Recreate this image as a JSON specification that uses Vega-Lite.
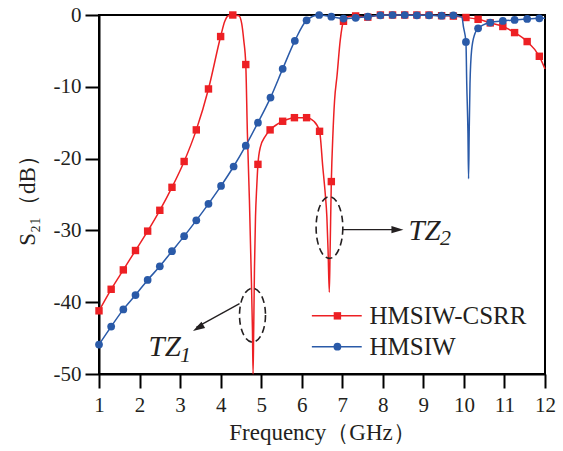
{
  "$schema": "https://vega.github.io/schema/vega-lite/v6.json",
  "width": 446,
  "height": 359,
  "autosize": {"type": "none"},
  "padding": {"left": 99, "top": 15, "right": 18, "bottom": 77},
  "background": "white",
  "config": {
    "view": {"stroke": "black", "strokeWidth": 2},
    "font": "Times New Roman",
    "axis": {
      "domainColor": "black", "domainWidth": 2,
      "tickColor": "black", "tickWidth": 2,
      "grid": false,
      "labelFont": "Times New Roman", "labelFontSize": 21, "labelColor": "#231f20",
      "titleFont": "Times New Roman", "titleFontSize": 23, "titleFontWeight": "normal", "titleColor": "#231f20",
      "labelOverlap": false, "labelFlush": false
    }
  },
  "datasets": {
    "curves": [
      {"series": "HMSIW-CSRR", "f": 1.0, "s21": -41.2},
      {"series": "HMSIW-CSRR", "f": 1.3, "s21": -38.2},
      {"series": "HMSIW-CSRR", "f": 1.6, "s21": -35.5},
      {"series": "HMSIW-CSRR", "f": 1.9, "s21": -32.8},
      {"series": "HMSIW-CSRR", "f": 2.2, "s21": -30.1},
      {"series": "HMSIW-CSRR", "f": 2.5, "s21": -27.2},
      {"series": "HMSIW-CSRR", "f": 2.8, "s21": -24.0},
      {"series": "HMSIW-CSRR", "f": 3.1, "s21": -20.4},
      {"series": "HMSIW-CSRR", "f": 3.4, "s21": -16.0},
      {"series": "HMSIW-CSRR", "f": 3.7, "s21": -10.3},
      {"series": "HMSIW-CSRR", "f": 4.0, "s21": -3.0},
      {"series": "HMSIW-CSRR", "f": 4.1, "s21": -0.9},
      {"series": "HMSIW-CSRR", "f": 4.19, "s21": -0.1},
      {"series": "HMSIW-CSRR", "f": 4.3, "s21": 0},
      {"series": "HMSIW-CSRR", "f": 4.45, "s21": -0.1},
      {"series": "HMSIW-CSRR", "f": 4.52, "s21": -1.2},
      {"series": "HMSIW-CSRR", "f": 4.57, "s21": -3.5},
      {"series": "HMSIW-CSRR", "f": 4.62, "s21": -6.9},
      {"series": "HMSIW-CSRR", "f": 4.66, "s21": -16.5},
      {"series": "HMSIW-CSRR", "f": 4.71, "s21": -25.8},
      {"series": "HMSIW-CSRR", "f": 4.75, "s21": -35},
      {"series": "HMSIW-CSRR", "f": 4.785, "s21": -44},
      {"series": "HMSIW-CSRR", "f": 4.8, "s21": -50},
      {"series": "HMSIW-CSRR", "f": 4.815, "s21": -44},
      {"series": "HMSIW-CSRR", "f": 4.835, "s21": -35.1},
      {"series": "HMSIW-CSRR", "f": 4.86, "s21": -28.1},
      {"series": "HMSIW-CSRR", "f": 4.89, "s21": -24},
      {"series": "HMSIW-CSRR", "f": 4.92, "s21": -20.8},
      {"series": "HMSIW-CSRR", "f": 4.98, "s21": -18.4},
      {"series": "HMSIW-CSRR", "f": 5.1, "s21": -16.9},
      {"series": "HMSIW-CSRR", "f": 5.22, "s21": -16.0},
      {"series": "HMSIW-CSRR", "f": 5.4, "s21": -15.2},
      {"series": "HMSIW-CSRR", "f": 5.53, "s21": -14.8},
      {"series": "HMSIW-CSRR", "f": 5.82, "s21": -14.3},
      {"series": "HMSIW-CSRR", "f": 6.12, "s21": -14.3},
      {"series": "HMSIW-CSRR", "f": 6.3, "s21": -14.8},
      {"series": "HMSIW-CSRR", "f": 6.44, "s21": -16.2},
      {"series": "HMSIW-CSRR", "f": 6.52, "s21": -21.2},
      {"series": "HMSIW-CSRR", "f": 6.58, "s21": -24.9},
      {"series": "HMSIW-CSRR", "f": 6.62, "s21": -28.1},
      {"series": "HMSIW-CSRR", "f": 6.65, "s21": -32.8},
      {"series": "HMSIW-CSRR", "f": 6.68, "s21": -38.6},
      {"series": "HMSIW-CSRR", "f": 6.70, "s21": -32.8},
      {"series": "HMSIW-CSRR", "f": 6.73, "s21": -23.2},
      {"series": "HMSIW-CSRR", "f": 6.77, "s21": -16.5},
      {"series": "HMSIW-CSRR", "f": 6.81, "s21": -11.9},
      {"series": "HMSIW-CSRR", "f": 6.87, "s21": -8.5},
      {"series": "HMSIW-CSRR", "f": 6.95, "s21": -3.5},
      {"series": "HMSIW-CSRR", "f": 7.03, "s21": -0.88},
      {"series": "HMSIW-CSRR", "f": 7.15, "s21": -0.25},
      {"series": "HMSIW-CSRR", "f": 7.33, "s21": -0.13},
      {"series": "HMSIW-CSRR", "f": 7.63, "s21": -0.3},
      {"series": "HMSIW-CSRR", "f": 7.94, "s21": 0},
      {"series": "HMSIW-CSRR", "f": 8.24, "s21": 0},
      {"series": "HMSIW-CSRR", "f": 8.54, "s21": 0},
      {"series": "HMSIW-CSRR", "f": 8.84, "s21": 0},
      {"series": "HMSIW-CSRR", "f": 9.14, "s21": 0},
      {"series": "HMSIW-CSRR", "f": 9.45, "s21": -0.1},
      {"series": "HMSIW-CSRR", "f": 9.74, "s21": -0.15},
      {"series": "HMSIW-CSRR", "f": 10.05, "s21": -0.35},
      {"series": "HMSIW-CSRR", "f": 10.35, "s21": -0.6},
      {"series": "HMSIW-CSRR", "f": 10.65, "s21": -1.1},
      {"series": "HMSIW-CSRR", "f": 10.96, "s21": -1.6},
      {"series": "HMSIW-CSRR", "f": 11.25, "s21": -2.45},
      {"series": "HMSIW-CSRR", "f": 11.56, "s21": -3.7},
      {"series": "HMSIW-CSRR", "f": 11.86, "s21": -5.75},
      {"series": "HMSIW-CSRR", "f": 12.0, "s21": -7.5},
      {"series": "HMSIW", "f": 1.0, "s21": -45.9},
      {"series": "HMSIW", "f": 1.3, "s21": -43.4},
      {"series": "HMSIW", "f": 1.6, "s21": -41.0},
      {"series": "HMSIW", "f": 1.9, "s21": -39.0},
      {"series": "HMSIW", "f": 2.2, "s21": -36.9},
      {"series": "HMSIW", "f": 2.5, "s21": -35.0},
      {"series": "HMSIW", "f": 2.8, "s21": -32.9},
      {"series": "HMSIW", "f": 3.1, "s21": -30.8},
      {"series": "HMSIW", "f": 3.4, "s21": -28.6},
      {"series": "HMSIW", "f": 3.7, "s21": -26.3},
      {"series": "HMSIW", "f": 4.01, "s21": -23.8},
      {"series": "HMSIW", "f": 4.32, "s21": -21.1},
      {"series": "HMSIW", "f": 4.62, "s21": -18.2},
      {"series": "HMSIW", "f": 4.92, "s21": -15.0},
      {"series": "HMSIW", "f": 5.23, "s21": -11.5},
      {"series": "HMSIW", "f": 5.53, "s21": -7.5},
      {"series": "HMSIW", "f": 5.83, "s21": -3.6},
      {"series": "HMSIW", "f": 6.12, "s21": -0.74},
      {"series": "HMSIW", "f": 6.43, "s21": 0},
      {"series": "HMSIW", "f": 6.73, "s21": -0.23},
      {"series": "HMSIW", "f": 7.03, "s21": -0.5},
      {"series": "HMSIW", "f": 7.33, "s21": -0.4},
      {"series": "HMSIW", "f": 7.63, "s21": -0.23},
      {"series": "HMSIW", "f": 7.94, "s21": -0.05},
      {"series": "HMSIW", "f": 8.24, "s21": 0},
      {"series": "HMSIW", "f": 8.54, "s21": 0},
      {"series": "HMSIW", "f": 8.84, "s21": -0.05},
      {"series": "HMSIW", "f": 9.14, "s21": -0.05},
      {"series": "HMSIW", "f": 9.45, "s21": -0.1},
      {"series": "HMSIW", "f": 9.74, "s21": -0.05},
      {"series": "HMSIW", "f": 9.95, "s21": -0.3},
      {"series": "HMSIW", "f": 9.99, "s21": -1.7},
      {"series": "HMSIW", "f": 10.05, "s21": -3.76},
      {"series": "HMSIW", "f": 10.07, "s21": -9.6},
      {"series": "HMSIW", "f": 10.1, "s21": -16.5},
      {"series": "HMSIW", "f": 10.115, "s21": -22.8},
      {"series": "HMSIW", "f": 10.13, "s21": -16.5},
      {"series": "HMSIW", "f": 10.15, "s21": -9.6},
      {"series": "HMSIW", "f": 10.19, "s21": -4.9},
      {"series": "HMSIW", "f": 10.27, "s21": -2.6},
      {"series": "HMSIW", "f": 10.35, "s21": -1.85},
      {"series": "HMSIW", "f": 10.65, "s21": -1.06},
      {"series": "HMSIW", "f": 10.96, "s21": -0.83},
      {"series": "HMSIW", "f": 11.25, "s21": -0.69},
      {"series": "HMSIW", "f": 11.56, "s21": -0.55},
      {"series": "HMSIW", "f": 11.86, "s21": -0.46},
      {"series": "HMSIW", "f": 12.0, "s21": -0.45}
    ],
    "samples": [
      {"series": "HMSIW-CSRR", "f": 1.0, "s21": -41.2},
      {"series": "HMSIW-CSRR", "f": 1.3, "s21": -38.2},
      {"series": "HMSIW-CSRR", "f": 1.6, "s21": -35.5},
      {"series": "HMSIW-CSRR", "f": 1.9, "s21": -32.8},
      {"series": "HMSIW-CSRR", "f": 2.2, "s21": -30.1},
      {"series": "HMSIW-CSRR", "f": 2.5, "s21": -27.2},
      {"series": "HMSIW-CSRR", "f": 2.8, "s21": -24.0},
      {"series": "HMSIW-CSRR", "f": 3.1, "s21": -20.4},
      {"series": "HMSIW-CSRR", "f": 3.4, "s21": -16.0},
      {"series": "HMSIW-CSRR", "f": 3.7, "s21": -10.3},
      {"series": "HMSIW-CSRR", "f": 4.0, "s21": -3.0},
      {"series": "HMSIW-CSRR", "f": 4.3, "s21": 0},
      {"series": "HMSIW-CSRR", "f": 4.62, "s21": -6.9},
      {"series": "HMSIW-CSRR", "f": 4.92, "s21": -20.8},
      {"series": "HMSIW-CSRR", "f": 5.22, "s21": -16.0},
      {"series": "HMSIW-CSRR", "f": 5.53, "s21": -14.8},
      {"series": "HMSIW-CSRR", "f": 5.82, "s21": -14.3},
      {"series": "HMSIW-CSRR", "f": 6.12, "s21": -14.3},
      {"series": "HMSIW-CSRR", "f": 6.44, "s21": -16.2},
      {"series": "HMSIW-CSRR", "f": 6.73, "s21": -23.2},
      {"series": "HMSIW-CSRR", "f": 7.03, "s21": -0.88},
      {"series": "HMSIW-CSRR", "f": 7.33, "s21": -0.13},
      {"series": "HMSIW-CSRR", "f": 7.63, "s21": -0.3},
      {"series": "HMSIW-CSRR", "f": 7.94, "s21": 0},
      {"series": "HMSIW-CSRR", "f": 8.24, "s21": 0},
      {"series": "HMSIW-CSRR", "f": 8.54, "s21": 0},
      {"series": "HMSIW-CSRR", "f": 8.84, "s21": 0},
      {"series": "HMSIW-CSRR", "f": 9.14, "s21": 0},
      {"series": "HMSIW-CSRR", "f": 9.45, "s21": -0.1},
      {"series": "HMSIW-CSRR", "f": 9.74, "s21": -0.15},
      {"series": "HMSIW-CSRR", "f": 10.05, "s21": -0.35},
      {"series": "HMSIW-CSRR", "f": 10.35, "s21": -0.6},
      {"series": "HMSIW-CSRR", "f": 10.65, "s21": -1.1},
      {"series": "HMSIW-CSRR", "f": 10.96, "s21": -1.6},
      {"series": "HMSIW-CSRR", "f": 11.25, "s21": -2.45},
      {"series": "HMSIW-CSRR", "f": 11.56, "s21": -3.7},
      {"series": "HMSIW-CSRR", "f": 11.86, "s21": -5.75},
      {"series": "HMSIW", "f": 1.0, "s21": -45.9},
      {"series": "HMSIW", "f": 1.3, "s21": -43.4},
      {"series": "HMSIW", "f": 1.6, "s21": -41.0},
      {"series": "HMSIW", "f": 1.9, "s21": -39.0},
      {"series": "HMSIW", "f": 2.2, "s21": -36.9},
      {"series": "HMSIW", "f": 2.5, "s21": -35.0},
      {"series": "HMSIW", "f": 2.8, "s21": -32.9},
      {"series": "HMSIW", "f": 3.1, "s21": -30.8},
      {"series": "HMSIW", "f": 3.4, "s21": -28.6},
      {"series": "HMSIW", "f": 3.7, "s21": -26.3},
      {"series": "HMSIW", "f": 4.01, "s21": -23.8},
      {"series": "HMSIW", "f": 4.32, "s21": -21.1},
      {"series": "HMSIW", "f": 4.62, "s21": -18.2},
      {"series": "HMSIW", "f": 4.92, "s21": -15.0},
      {"series": "HMSIW", "f": 5.23, "s21": -11.5},
      {"series": "HMSIW", "f": 5.53, "s21": -7.5},
      {"series": "HMSIW", "f": 5.83, "s21": -3.6},
      {"series": "HMSIW", "f": 6.12, "s21": -0.74},
      {"series": "HMSIW", "f": 6.43, "s21": 0},
      {"series": "HMSIW", "f": 6.73, "s21": -0.23},
      {"series": "HMSIW", "f": 7.03, "s21": -0.5},
      {"series": "HMSIW", "f": 7.33, "s21": -0.4},
      {"series": "HMSIW", "f": 7.63, "s21": -0.23},
      {"series": "HMSIW", "f": 7.94, "s21": -0.05},
      {"series": "HMSIW", "f": 8.24, "s21": 0},
      {"series": "HMSIW", "f": 8.54, "s21": 0},
      {"series": "HMSIW", "f": 8.84, "s21": -0.05},
      {"series": "HMSIW", "f": 9.14, "s21": -0.05},
      {"series": "HMSIW", "f": 9.45, "s21": -0.1},
      {"series": "HMSIW", "f": 9.74, "s21": -0.05},
      {"series": "HMSIW", "f": 10.05, "s21": -3.76},
      {"series": "HMSIW", "f": 10.35, "s21": -1.85},
      {"series": "HMSIW", "f": 10.65, "s21": -1.06},
      {"series": "HMSIW", "f": 10.96, "s21": -0.83},
      {"series": "HMSIW", "f": 11.25, "s21": -0.69},
      {"series": "HMSIW", "f": 11.56, "s21": -0.55},
      {"series": "HMSIW", "f": 11.86, "s21": -0.46}
    ],
    "one": [{}]
  },
  "layer": [
    {
      "data": {"name": "curves"},
      "transform": [{"filter": "datum.series === 'HMSIW-CSRR'"}],
      "mark": {"type": "line", "color": "#ED2024", "strokeWidth": 1.5, "interpolate": "monotone"},
      "encoding": {
        "x": {
          "field": "f", "type": "quantitative",
          "scale": {"domain": [1, 12], "nice": false, "zero": false},
          "axis": {
            "title": "Frequency（GHz）",
            "values": [1, 1.5, 2, 2.5, 3, 3.5, 4, 4.5, 5, 5.5, 6, 6.5, 7, 7.5, 8, 8.5, 9, 9.5, 10, 10.5, 11, 11.5, 12],
            "tickSize": {"condition": {"test": "datum.value % 1 === 0", "value": 14}, "value": 7},
            "labelExpr": "datum.value % 1 === 0 ? toString(datum.value) : ''",
            "labelPadding": 6,
            "titlePadding": 6
          }
        },
        "y": {
          "field": "s21", "type": "quantitative",
          "scale": {"domain": [-50, 0], "nice": false, "zero": false},
          "axis": {
            "title": "S₂₁（dB）",
            "values": [-50, -45, -40, -35, -30, -25, -20, -15, -10, -5, 0],
            "tickSize": {"condition": {"test": "datum.value % 10 === 0", "value": 14}, "value": 7},
            "labelExpr": "datum.value % 10 === 0 ? toString(datum.value) : ''",
            "labelPadding": 4,
            "titlePadding": 14
          }
        }
      }
    },
    {
      "data": {"name": "samples"},
      "transform": [{"filter": "datum.series === 'HMSIW-CSRR'"}],
      "mark": {"type": "point", "shape": "square", "filled": true, "color": "#ED2024", "size": 55, "opacity": 1},
      "encoding": {
        "x": {"field": "f", "type": "quantitative"},
        "y": {"field": "s21", "type": "quantitative"}
      }
    },
    {
      "data": {"name": "curves"},
      "transform": [{"filter": "datum.series === 'HMSIW'"}],
      "mark": {"type": "line", "color": "#2A5AA8", "strokeWidth": 1.5, "interpolate": "monotone"},
      "encoding": {
        "x": {"field": "f", "type": "quantitative"},
        "y": {"field": "s21", "type": "quantitative"}
      }
    },
    {
      "data": {"name": "samples"},
      "transform": [{"filter": "datum.series === 'HMSIW'"}],
      "mark": {"type": "point", "shape": "circle", "filled": true, "color": "#2A5AA8", "size": 60, "opacity": 1},
      "encoding": {
        "x": {"field": "f", "type": "quantitative"},
        "y": {"field": "s21", "type": "quantitative"}
      }
    },
    {
      "data": {"name": "one"},
      "mark": {"type": "point", "shape": "M0.481,0C0.481,0.552,0.266,1,0,1C-0.266,1,-0.481,0.552,-0.481,0C-0.481,-0.552,-0.266,-1,0,-1C0.266,-1,0.481,-0.552,0.481,0Z", "size": 2916, "filled": false, "stroke": "#231f20", "strokeWidth": 1.6, "strokeDash": [7, 4], "opacity": 1},
      "encoding": {"x": {"datum": 4.786, "type": "quantitative"}, "y": {"datum": -41.8, "type": "quantitative"}}
    },
    {
      "data": {"name": "one"},
      "mark": {"type": "point", "shape": "M0.433,0C0.433,0.552,0.239,1,0,1C-0.239,1,-0.433,0.552,-0.433,0C-0.433,-0.552,-0.239,-1,0,-1C0.239,-1,0.433,-0.552,0.433,0Z", "size": 3807, "filled": false, "stroke": "#231f20", "strokeWidth": 1.6, "strokeDash": [7, 4], "opacity": 1},
      "encoding": {"x": {"datum": 6.684, "type": "quantitative"}, "y": {"datum": -29.6, "type": "quantitative"}}
    },
    {
      "data": {"name": "one"},
      "mark": {"type": "rule", "stroke": "#231f20", "strokeWidth": 1.3},
      "encoding": {"x": {"datum": 4.466, "type": "quantitative"}, "y": {"datum": -40.2, "type": "quantitative"}, "x2": {"datum": 3.4}, "y2": {"datum": -43.5}}
    },
    {
      "data": {"name": "one"},
      "mark": {"type": "point", "shape": "M0,0L-1,-0.3L-1,0.3Z", "size": 576, "filled": true, "color": "#231f20", "angle": 149.5, "opacity": 1},
      "encoding": {"x": {"datum": 3.317, "type": "quantitative"}, "y": {"datum": -44.0, "type": "quantitative"}}
    },
    {
      "data": {"name": "one"},
      "mark": {"type": "rule", "stroke": "#231f20", "strokeWidth": 1.3},
      "encoding": {"x": {"datum": 7.004, "type": "quantitative"}, "y": {"datum": -29.9, "type": "quantitative"}, "x2": {"datum": 8.4}}
    },
    {
      "data": {"name": "one"},
      "mark": {"type": "point", "shape": "M0,0L-1,-0.3L-1,0.3Z", "size": 576, "filled": true, "color": "#231f20", "angle": 0, "opacity": 1},
      "encoding": {"x": {"datum": 8.508, "type": "quantitative"}, "y": {"datum": -29.9, "type": "quantitative"}}
    },
    {
      "data": {"name": "one"},
      "mark": {"type": "text", "text": "TZ", "font": "Times New Roman", "fontStyle": "italic", "fontSize": 29, "align": "left", "baseline": "alphabetic", "color": "#231f20"},
      "encoding": {"x": {"datum": 2.223, "type": "quantitative"}, "y": {"datum": -47.5, "type": "quantitative"}}
    },
    {
      "data": {"name": "one"},
      "mark": {"type": "text", "text": "1", "font": "Times New Roman", "fontStyle": "italic", "fontSize": 22, "align": "left", "baseline": "alphabetic", "color": "#231f20"},
      "encoding": {"x": {"datum": 3.0, "type": "quantitative"}, "y": {"datum": -48.3, "type": "quantitative"}}
    },
    {
      "data": {"name": "one"},
      "mark": {"type": "text", "text": "TZ", "font": "Times New Roman", "fontStyle": "italic", "fontSize": 29, "align": "left", "baseline": "alphabetic", "color": "#231f20"},
      "encoding": {"x": {"datum": 8.631, "type": "quantitative"}, "y": {"datum": -31.4, "type": "quantitative"}}
    },
    {
      "data": {"name": "one"},
      "mark": {"type": "text", "text": "2", "font": "Times New Roman", "fontStyle": "italic", "fontSize": 22, "align": "left", "baseline": "alphabetic", "color": "#231f20"},
      "encoding": {"x": {"datum": 9.41, "type": "quantitative"}, "y": {"datum": -32.1, "type": "quantitative"}}
    },
    {
      "data": {"name": "one"},
      "mark": {"type": "rule", "stroke": "#ED2024", "strokeWidth": 1.5},
      "encoding": {"x": {"datum": 6.25, "type": "quantitative"}, "x2": {"datum": 7.48}, "y": {"datum": -41.9, "type": "quantitative"}}
    },
    {
      "data": {"name": "one"},
      "mark": {"type": "point", "shape": "square", "filled": true, "color": "#ED2024", "size": 55, "opacity": 1},
      "encoding": {"x": {"datum": 6.88, "type": "quantitative"}, "y": {"datum": -41.9, "type": "quantitative"}}
    },
    {
      "data": {"name": "one"},
      "mark": {"type": "text", "text": "HMSIW-CSRR", "font": "Times New Roman", "fontSize": 25, "align": "left", "baseline": "alphabetic", "color": "#231f20"},
      "encoding": {"x": {"datum": 7.67, "type": "quantitative"}, "y": {"datum": -42.98, "type": "quantitative"}}
    },
    {
      "data": {"name": "one"},
      "mark": {"type": "rule", "stroke": "#2A5AA8", "strokeWidth": 1.5},
      "encoding": {"x": {"datum": 6.25, "type": "quantitative"}, "x2": {"datum": 7.48}, "y": {"datum": -46.2, "type": "quantitative"}}
    },
    {
      "data": {"name": "one"},
      "mark": {"type": "point", "shape": "circle", "filled": true, "color": "#2A5AA8", "size": 60, "opacity": 1},
      "encoding": {"x": {"datum": 6.88, "type": "quantitative"}, "y": {"datum": -46.2, "type": "quantitative"}}
    },
    {
      "data": {"name": "one"},
      "mark": {"type": "text", "text": "HMSIW", "font": "Times New Roman", "fontSize": 25, "align": "left", "baseline": "alphabetic", "color": "#231f20"},
      "encoding": {"x": {"datum": 7.67, "type": "quantitative"}, "y": {"datum": -47.4, "type": "quantitative"}}
    }
  ]
}
